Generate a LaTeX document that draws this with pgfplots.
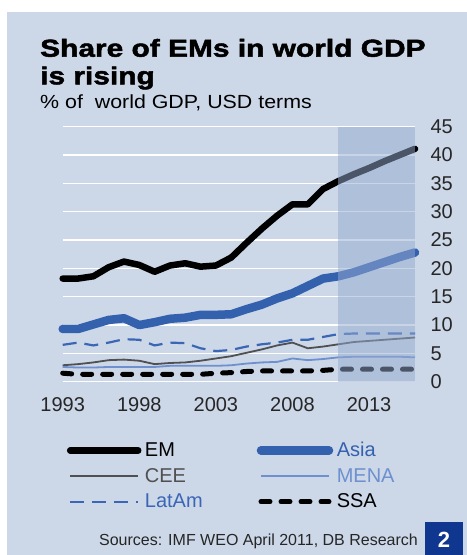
\documentclass[border=0pt]{standalone}
\usepackage{fontspec}
\setmainfont{Liberation Sans}
\newfontfamily\titlefont[FakeStretch=1.22,FakeBold=2]{Liberation Sans Bold}
\newfontfamily\subfont[FakeStretch=1.125]{Liberation Sans}
\usepackage{pgfplots}
\pgfplotsset{compat=1.18}
\definecolor{bg}{HTML}{CCD7E8}
\definecolor{shade}{HTML}{94AAD0}
\definecolor{asia}{HTML}{3461AE}
\definecolor{cee}{HTML}{505050}
\definecolor{mena}{HTML}{6E90CF}
\definecolor{latam}{HTML}{3A66B5}
\definecolor{boxblue}{HTML}{10378F}
\begin{document}
\begin{tikzpicture}
\path[use as bounding box] (0bp,0bp) rectangle (467bp,555bp);
\fill[white] (0bp,0bp) rectangle (467bp,555bp);
\fill[bg] (7bp,0bp) rectangle (467bp,543bp);
\node[anchor=base west,inner sep=0,font=\titlefont\fontsize{24.5bp}{26bp}\selectfont] at (40bp,498.3bp) {Share of EMs in world GDP};
\node[anchor=base west,inner sep=0,font=\titlefont\fontsize{24.5bp}{26bp}\selectfont] at (40bp,470.7bp) {is rising};
\node[anchor=base west,inner sep=0,font=\subfont\fontsize{19bp}{22bp}\selectfont] at (40bp,446.7bp) {\%{} of\ \ world GDP, USD terms};
\begin{axis}[
  at={(62.7bp,173.3bp)}, anchor=south west,
  scale only axis, width=352.3bp, height=255bp,
  xmin=1993, xmax=2016, ymin=0, ymax=45,
  axis line style={draw=none},
  clip=false,
  xtick={1993,1998,2003,2008,2013},
  xticklabels={1993,1998,2003,2008,2013},
  ytick={0,5,...,45},
  yticklabel pos=right,
  major tick length=0,
  ymajorgrids, major grid style={white, line width=1.6bp},
  /pgf/number format/assume math mode=true,
  /pgf/number format/1000 sep={},
  tick label style={font=\fontsize{20bp}{24bp}\selectfont, text=black!85},
  yticklabel style={anchor=west, xshift=12bp},
  xticklabel style={yshift=-12bp},
  legend columns=2,
  legend cell align=left,
  legend style={at={(axis description cs:0.003,-0.222)}, anchor=north west, draw=none, fill=none,
    font=\fontsize{20bp}{24bp}\selectfont,
    nodes={inner xsep=1bp},
    /tikz/every odd column/.append style={column sep=2.5bp},
    /tikz/every even column/.append style={column sep=53bp},
    row sep=6bp},
  legend image code/.code={\draw[#1] (0bp,0bp) -- (68bp,0bp);},
]
\addplot[black, line width=6.5bp, line cap=round, line join=round] coordinates {
(1993,18.2)(1994,18.2)(1995,18.6)(1996,20.2)(1997,21.2)(1998,20.6)(1999,19.4)(2000,20.5)(2001,20.9)(2002,20.3)(2003,20.5)(2004,21.9)(2005,24.5)(2006,27.0)(2007,29.3)(2008,31.3)(2009,31.3)(2010,34.0)(2011,35.4)(2012,36.6)(2013,37.7)(2014,38.9)(2015,40.0)(2016,41.1)};
\addlegendentry{EM}
\addplot[asia, line width=8.5bp, line cap=round, line join=round] coordinates {
(1993,9.3)(1994,9.3)(1995,10.1)(1996,10.9)(1997,11.2)(1998,10.0)(1999,10.5)(2000,11.1)(2001,11.3)(2002,11.8)(2003,11.8)(2004,11.9)(2005,12.8)(2006,13.6)(2007,14.7)(2008,15.6)(2009,16.9)(2010,18.2)(2011,18.6)(2012,19.3)(2013,20.2)(2014,21.1)(2015,22.0)(2016,22.8)};
\addlegendentry{\textcolor{asia}{Asia}}
\addplot[cee, line width=1.8bp, line join=round] coordinates {
(1993,2.9)(1994,3.1)(1995,3.4)(1996,3.8)(1997,3.9)(1998,3.7)(1999,3.1)(2000,3.3)(2001,3.4)(2002,3.7)(2003,4.1)(2004,4.5)(2005,5.1)(2006,5.7)(2007,6.4)(2008,6.9)(2009,5.9)(2010,6.2)(2011,6.6)(2012,7.0)(2013,7.2)(2014,7.4)(2015,7.6)(2016,7.8)};
\addlegendentry{\textcolor{cee}{CEE}}
\addplot[mena, line width=1.8bp, line join=round] coordinates {
(1993,2.6)(1994,2.5)(1995,2.5)(1996,2.6)(1997,2.6)(1998,2.6)(1999,2.6)(2000,2.8)(2001,2.8)(2002,2.8)(2003,2.8)(2004,2.9)(2005,3.2)(2006,3.4)(2007,3.5)(2008,4.1)(2009,3.8)(2010,4.0)(2011,4.3)(2012,4.4)(2013,4.4)(2014,4.4)(2015,4.4)(2016,4.3)};
\addlegendentry{\textcolor{mena}{MENA}}
\addplot[latam, line width=2.2bp, dash pattern=on 14bp off 8bp, line join=round] coordinates {
(1993,6.5)(1994,6.9)(1995,6.4)(1996,6.9)(1997,7.5)(1998,7.4)(1999,6.4)(2000,6.9)(2001,6.8)(2002,5.9)(2003,5.4)(2004,5.6)(2005,6.2)(2006,6.6)(2007,6.9)(2008,7.4)(2009,7.4)(2010,7.9)(2011,8.4)(2012,8.5)(2013,8.5)(2014,8.5)(2015,8.5)(2016,8.5)};
\addlegendentry{\textcolor{latam}{LatAm}}
\addplot[black, line width=5bp, line cap=round, dash pattern=on 9bp off 11bp, line join=round] coordinates {
(1993,1.5)(1994,1.3)(1995,1.3)(1996,1.3)(1997,1.3)(1998,1.3)(1999,1.3)(2000,1.3)(2001,1.3)(2002,1.3)(2003,1.5)(2004,1.6)(2005,1.8)(2006,1.9)(2007,1.9)(2008,1.9)(2009,1.9)(2010,2.0)(2011,2.2)(2012,2.2)(2013,2.2)(2014,2.2)(2015,2.2)(2016,2.2)};
\addlegendentry{SSA}
\addplot[forget plot, draw=none, fill=shade, fill opacity=0.5] coordinates {(2011,0)(2016,0)(2016,45)(2011,45)} -- cycle;
\end{axis}
\node[anchor=base east,inner sep=0,font=\fontsize{16bp}{19bp}\selectfont,text=black!85] at (418bp,10bp) {Sources: IMF WEO April 2011, DB Research};
\fill[boxblue] (425bp,0bp) rectangle (463bp,33bp);
\node[font=\bfseries\fontsize{22bp}{24bp}\selectfont,text=white] at (444bp,15bp) {2};
\end{tikzpicture}
\end{document}
